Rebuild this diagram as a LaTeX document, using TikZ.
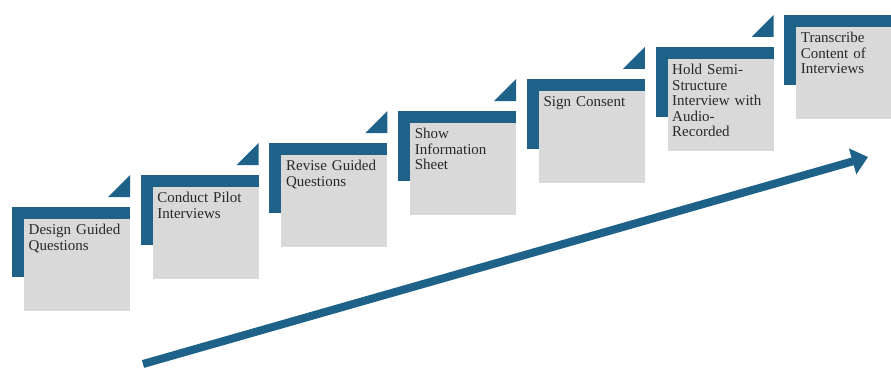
\documentclass[tikz,border=0pt]{standalone}
\usepackage{fontspec}
\setmainfont{Liberation Serif}
\usetikzlibrary{arrows.meta}
\definecolor{stepblue}{RGB}{30,98,138}
\definecolor{stepgrey}{RGB}{217,217,217}
\definecolor{steptext}{RGB}{40,40,40}
\begin{document}
\begin{tikzpicture}[x=1pt,y=-1pt,
  bracket/.style={fill=stepblue},
  card/.style={fill=stepgrey, draw=none, minimum width=106pt, minimum height=92pt,
    inner sep=0pt, outer sep=0pt, anchor=north west},
  steplabel/.style={anchor=north west, inner sep=0pt, text width=100pt, align=left,
    font=\fontsize{15}{15.5}\selectfont, text=steptext},
  progress/.style={draw=stepblue, line width=8pt, -{Triangle[width=26pt,length=16pt]}}]
\path[use as bounding box, clip] (0,0) rectangle (891,369);
\fill[white] (0,0) rectangle (891,369);
% steps: blue corner bracket, grey card with its text, and a small accent triangle
\foreach \i/\txt in {
    0/{Design Guided\\Questions},
    1/{Conduct Pilot\\Interviews},
    2/{Revise Guided\\Questions},
    3/{Show\\Information\\Sheet},
    4/{Sign Consent},
    5/{Hold Semi-\\Structure\\Interview with\\Audio-\\Recorded},
    6/{Transcribe\\Content of\\Interviews}} {
  \pgfmathsetmacro\bx{12+128.7*\i}
  \pgfmathsetmacro\by{207-32*\i}
  \fill[bracket] (\bx,\by) rectangle ++(118,70);
  \node[card] (card\i) at (\bx+12,\by+12) {};
  \node[steplabel] (label\i) at ([shift={(4.5,5)}]card\i.north west) {\txt};
  \ifnum\i<6
    \fill[bracket] (\bx+96,\by-10) -- ++(22,0) -- ++(0,-22) -- cycle;
  \fi
}
% rising arrow below the steps
\coordinate (arrowstart) at (143,364);
\coordinate (arrowend) at (868,157);
\draw[progress] (arrowstart) -- (arrowend);
\end{tikzpicture}
\end{document}
